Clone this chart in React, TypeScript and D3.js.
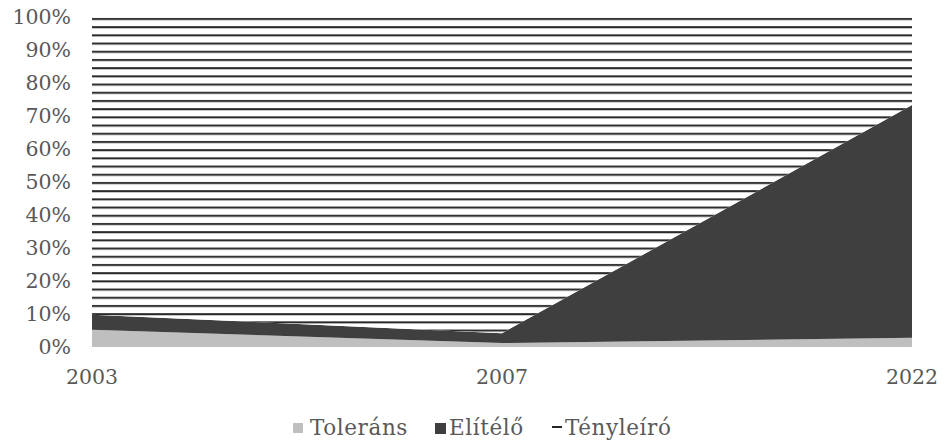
import React from "react";
import * as d3 from "d3";

const categories = ["2003", "2007", "2022"];
const seriesNames = ["Toleráns", "Elítélő", "Tényleíró"];
const toleransValues = [5.2, 1.2, 2.8];
const elitelo = [4.6, 3.0, 70.5];
const tenyleiro = [90.2, 95.8, 26.7];
const yTicks = [0, 10, 20, 30, 40, 50, 60, 70, 80, 90, 100];

const W = 947;
const H = 443;
const margin = { left: 92, right: 35, top: 17, bottom: 96 };

export default function App() {
  const x = d3
    .scalePoint<string>()
    .domain(categories)
    .range([margin.left, W - margin.right]);
  const y = d3
    .scaleLinear()
    .domain([0, 100])
    .range([H - margin.bottom, margin.top]);

  const rows = categories.map((c, i) => ({
    cat: c,
    "Toleráns": toleransValues[i],
    "Elítélő": elitelo[i],
    "Tényleíró": tenyleiro[i],
  }));
  const stack = d3.stack<any>().keys(seriesNames).offset(d3.stackOffsetExpand);
  const layers = stack(rows);
  const area = d3
    .area<any>()
    .x((d) => x(d.data.cat) as number)
    .y0((d) => y(d[0] * 100))
    .y1((d) => y(d[1] * 100));

  const fills = ["#bfbfbf", "#3f3f3f", "url(#hatch)"];
  const textColor = "#595959";
  const font = "'DejaVu Serif', 'Liberation Serif', serif";

  return (
    <svg width={W} height={H} style={{ position: "absolute", left: 0, top: 0, background: "#fff" }}>
      <defs>
        <pattern id="hatch" patternUnits="userSpaceOnUse" width={8} height={8.2} y={margin.top}>
          <rect x={0} y={0} width={8} height={8.2} fill="#fff" />
          <rect x={0} y={1} width={8} height={2} fill="#262626" />
        </pattern>
      </defs>
      {layers.map((layer, i) => (
        <path key={layer.key} d={area(layer as any) || ""} fill={fills[i]} />
      ))}
      {yTicks.map((t) => (
        <text
          key={t}
          x={margin.left - 21}
          y={y(t)}
          dy="0.36em"
          textAnchor="end"
          fontFamily={font}
          fontSize={20.5}
          fill={textColor}
        >
          {t}%
        </text>
      ))}
      {categories.map((c) => (
        <text
          key={c}
          x={x(c) as number}
          y={H - margin.bottom + 37}
          textAnchor="middle"
          fontFamily={font}
          fontSize={20.5}
          fill={textColor}
        >
          {c}
        </text>
      ))}
      <g fontFamily={font} fontSize={21.5} fill={textColor} letterSpacing={0.6}>
        <rect x={293} y={423} width={10} height={10} fill="#bfbfbf" />
        <text x={310} y={435}>Toleráns</text>
        <rect x={435} y={423} width={11} height={11} fill="#3f3f3f" />
        <text x={449} y={435}>Elítélő</text>
        <rect x={552} y={426} width={10} height={2} fill="#262626" />
        <text x={565} y={435}>Tényleíró</text>
      </g>
    </svg>
  );
}
